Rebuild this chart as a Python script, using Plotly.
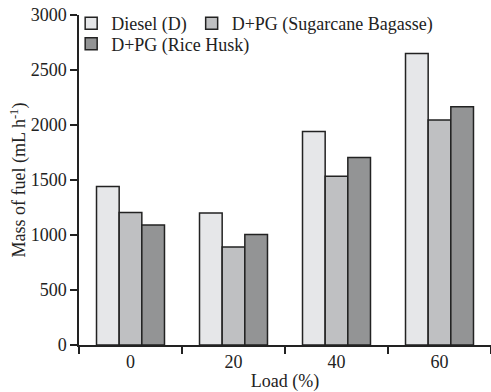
import plotly.graph_objects as go

loads = ["0", "20", "40", "60"]
diesel = [1440, 1200, 1940, 2650]
sugarcane = [1205, 890, 1535, 2045]
rice_husk = [1090, 1005, 1705, 2165]

series = [
    ("Diesel (D)", diesel, "#e6e7e9", "legend"),
    ("D+PG (Sugarcane Bagasse)", sugarcane, "#bfc0c2", "legend"),
    ("D+PG (Rice Husk)", rice_husk, "#939495", "legend2"),
]

fig = go.Figure()
for name, vals, col, lg in series:
    fig.add_trace(go.Bar(
        x=loads, y=vals, name=name, legend=lg,
        marker=dict(color=col, line=dict(color="#222222", width=1.5)),
    ))

font = dict(family="Liberation Serif, Times New Roman, serif", size=18, color="#222222")

legend_common = dict(orientation="h", xanchor="left", yanchor="top",
                     bgcolor="rgba(0,0,0,0)", font=font, traceorder="normal",
                     itemwidth=30)

fig.update_layout(
    width=491, height=392,
    margin=dict(l=79, r=0, t=15, b=47),
    paper_bgcolor="white", plot_bgcolor="white",
    font=font,
    barmode="group", bargap=0.34, bargroupgap=0,
    legend=dict(legend_common, x=-0.019, y=1.03),
    legend2=dict(legend_common, x=-0.019, y=0.968),
    xaxis=dict(
        type="category", showline=True, linecolor="#222222", linewidth=1.5,
        ticks="outside", tickson="boundaries", ticklen=7, tickcolor="#222222", tickwidth=1.5,
        showgrid=False, zeroline=False,
        title=dict(text="Load (%)", standoff=4, font=font),
    ),
    yaxis=dict(
        range=[0, 3000], tickvals=[0, 500, 1000, 1500, 2000, 2500, 3000],
        showline=True, linecolor="#222222", linewidth=1.5,
        ticks="outside", ticklen=7, tickcolor="#222222", tickwidth=1.5,
        showgrid=False, zeroline=False,
        title=dict(text="Mass of fuel (mL h<sup>-1</sup>)", standoff=0, font=font),
    ),
)

fig.write_html("out.html", config={"displayModeBar": False},
               post_script="document.body.style.margin='0px';")
